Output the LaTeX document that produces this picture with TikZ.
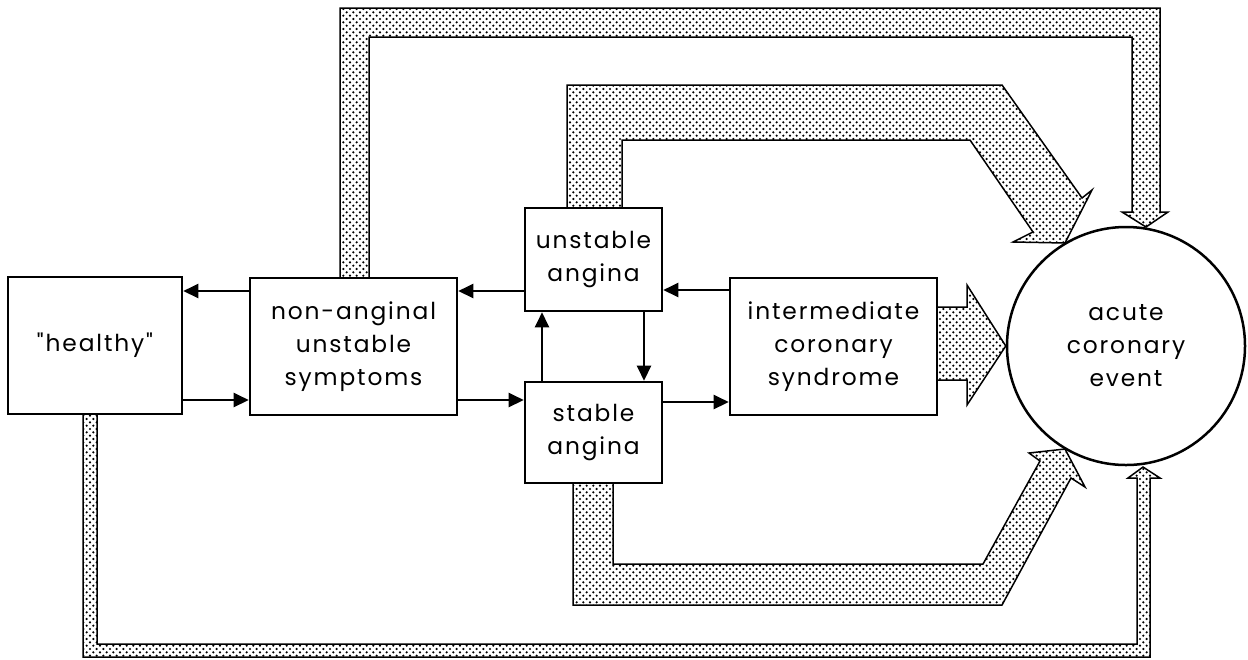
\documentclass[tikz,border=0pt]{standalone}
\usepackage{fontspec}
\setmainfont{Poppins}[LetterSpace=8, Ligatures=TeXOff]
\usetikzlibrary{arrows.meta,patterns,calc}
\pgfdeclarepatternformonly{stipple}{\pgfqpoint{-1pt}{-1pt}}{\pgfqpoint{3pt}{3pt}}{\pgfqpoint{4pt}{4pt}}{%
  \pgfpathcircle{\pgfqpoint{0pt}{0pt}}{0.72pt}%
  \pgfpathcircle{\pgfqpoint{2pt}{2pt}}{0.72pt}%
  \pgfusepath{fill}}
\begin{document}
\begin{tikzpicture}[x=0.6pt,y=-0.6pt,
  box/.style={draw, line width=1.6pt, align=center, inner sep=0pt,
    font=\fontsize{14}{19.8}\selectfont},
  link/.style={line width=1.2pt, -{Triangle[length=9pt,width=8.5pt]}},
  fat/.style={draw, line width=0.9pt, pattern=stipple, line join=miter}]
\useasboundingbox (0,0) rectangle (1248,659);

% nodes
\node[box, minimum width=104.4pt, minimum height=82.2pt] (H) at (95,345.5) {"healthy"};
\node[box, minimum width=124.2pt, minimum height=82.2pt] (N) at (353.5,346.5) {non-anginal\\unstable\\symptoms};
\node[box, minimum width=82.2pt, minimum height=61.8pt] (U) at (593.5,259.5) {unstable\\angina};
\node[box, minimum width=82.2pt, minimum height=60.6pt] (S) at (593.5,432.5) {stable\\angina};
\node[box, minimum width=124.2pt, minimum height=82.2pt] (I) at (833.5,346.5) {intermediate\\coronary\\syndrome};
\node[box, circle, line width=1.5pt, minimum size=142.8pt] (C) at (1126,346) {acute\\coronary\\event};

% fat stippled arrows
\draw[fat] (340,278) -- (340,8) -- (1160,8) -- (1160,212) -- (1168,212) -- (1146,227)
  -- (1122,212) -- (1132,212) -- (1132,37) -- (369,37) -- (369,278);
\draw[fat] (567,208) -- (567,85) -- (1002,85) -- (1082,198) -- (1092,190) -- (1065,243)
  -- (1013,242) -- (1033,232) -- (970,140) -- (622,140) -- (622,208);
\draw[fat] (937,307) -- (967,307) -- (967,285) -- (C.west) -- (967,405) -- (967,380) -- (937,380);
\draw[fat] (573,483) -- (573,605) -- (1002,605) -- (1071,478) -- (1085,487) -- (1065,449)
  -- (1029,453) -- (1040,461) -- (983,564) -- (613,564) -- (613,483);
\draw[fat] (83,414) -- (83,657) -- (1150,657) -- (1150,478) -- (1160,478) -- (1143,467)
  -- (1128,478) -- (1137,478) -- (1137,644) -- (97,644) -- (97,414);

% thin arrows
\coordinate (ya) at (0,291);
\coordinate (yb) at (0,400);
\coordinate (yc) at (0,402);
\coordinate (yd) at (0,290);
\coordinate (xa) at (542,0);
\coordinate (xb) at (644,0);
\draw[link] (N.west |- ya) -- (H.east |- ya);
\draw[link] (H.east |- yb) -- (N.west |- yb);
\draw[link] (U.west |- ya) -- (N.east |- ya);
\draw[link] (N.east |- yb) -- (S.west |- yb);
\draw[link] (S.north -| xa) -- (U.south -| xa);
\draw[link] (U.south -| xb) -- (S.north -| xb);
\draw[link] (I.west |- yd) -- (U.east |- yd);
\draw[link] (S.east |- yc) -- (I.west |- yc);
\end{tikzpicture}
\end{document}
